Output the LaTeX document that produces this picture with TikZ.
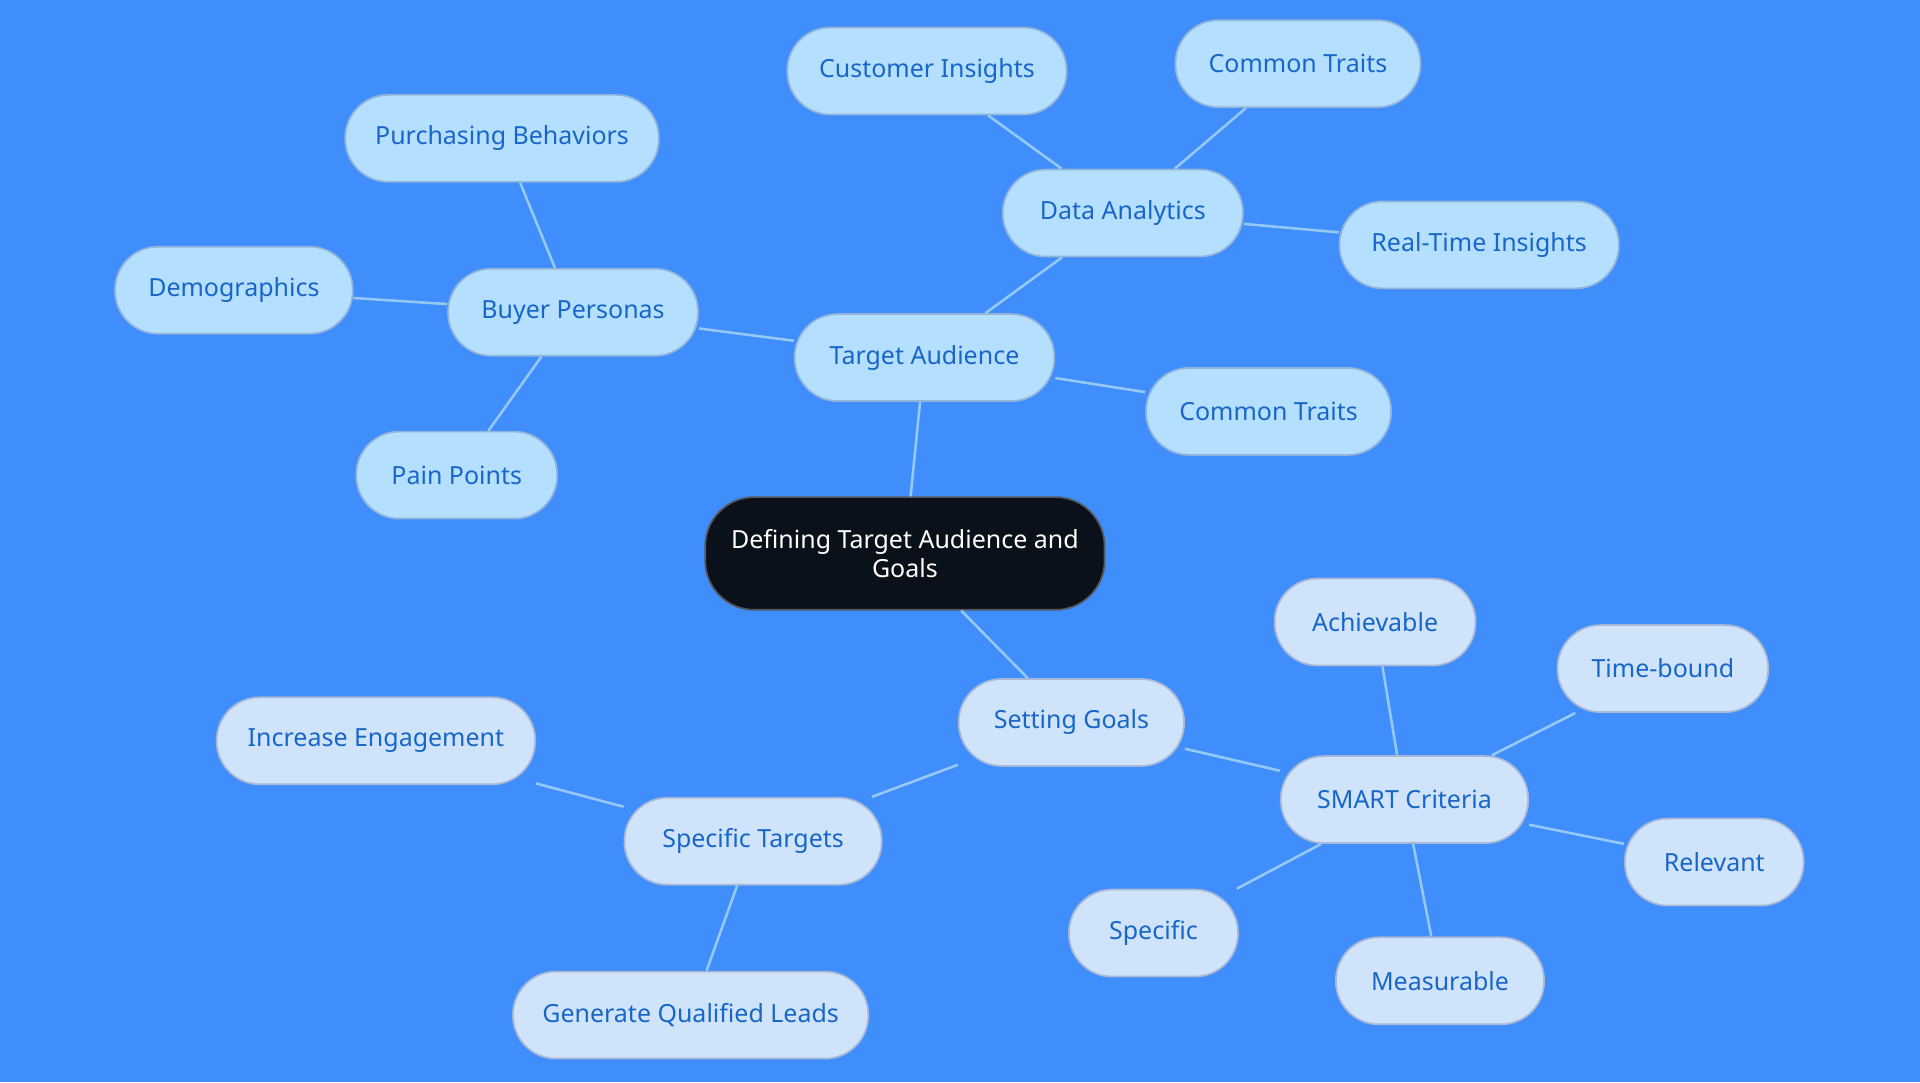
\documentclass[tikz,border=0pt]{standalone}
\usepackage{fontspec}
\setmainfont{Noto Sans}
\begin{document}
\definecolor{bg}{HTML}{3F8EFC}
\definecolor{upf}{HTML}{B5DFFF}
\definecolor{lof}{HTML}{CFE3FA}
\definecolor{txt}{HTML}{1766C8}
\definecolor{edge}{HTML}{96C8F5}
\definecolor{ctr}{HTML}{0B111A}
\begin{tikzpicture}[x=0.01cm,y=-0.01cm,
  nd/.style={draw=#1!85!black!95!blue,line width=0.4pt,fill=#1,rounded corners=0.35cm,minimum height=0.71cm,inner sep=0pt,text=txt,font=\fontsize{5.8}{7}\selectfont},
  up/.style={nd=upf},lo/.style={nd=lof},
  ln/.style={draw=edge,line width=0.6pt}]
\fill[bg] (0,0) rectangle (1568,884);
\useasboundingbox (0,0) rectangle (1568,884);
\node[fill=ctr,draw=ctr!70!white,rounded corners=0.4cm,minimum width=3.26cm,minimum height=0.92cm,text=white,align=center,font=\fontsize{5.8}{6.6}\selectfont] (c) at (739,452) {Defining Target Audience and\\Goals};
\node[up,minimum width=2.12cm] (ta) at (755,292) {Target Audience};
\node[up,minimum width=2.04cm] (bp) at (468,255) {Buyer Personas};
\node[up,minimum width=2.56cm] (pb) at (410,113) {Purchasing Behaviors};
\node[up,minimum width=1.94cm] (de) at (191,237) {Demographics};
\node[up,minimum width=1.64cm] (pp) at (373,388) {Pain Points};
\node[up,minimum width=1.96cm] (da) at (917,174) {Data Analytics};
\node[up,minimum width=2.28cm] (ci) at (757,58) {Customer Insights};
\node[up,minimum width=2.00cm] (ct1) at (1060,52) {Common Traits};
\node[up,minimum width=2.28cm] (rt) at (1208,200) {Real-Time Insights};
\node[up,minimum width=2.00cm] (ct2) at (1036,336) {Common Traits};
\node[lo,minimum width=1.84cm] (sg) at (875,590) {Setting Goals};
\node[lo,minimum width=2.10cm] (st) at (615,687) {Specific Targets};
\node[lo,minimum width=2.60cm] (ie) at (307,605) {Increase Engagement};
\node[lo,minimum width=2.90cm] (gq) at (564,829) {Generate Qualified Leads};
\node[lo,minimum width=2.02cm] (sm) at (1147,653) {SMART Criteria};
\node[lo,minimum width=1.64cm] (ac) at (1123,508) {Achievable};
\node[lo,minimum width=1.72cm] (tb) at (1358,546) {Time-bound};
\node[lo,minimum width=1.46cm] (re) at (1400,704) {Relevant};
\node[lo,minimum width=1.70cm] (me) at (1176,801) {Measurable};
\node[lo,minimum width=1.38cm] (sp) at (942,762) {Specific};
\begin{scope}[on background layer/.style={}]
\end{scope}
\foreach \a/\b in {c/ta,ta/bp,bp/pb,bp/de,bp/pp,ta/da,da/ci,da/ct1,da/rt,ta/ct2,c/sg,sg/st,st/ie,st/gq,sg/sm,sm/ac,sm/tb,sm/re,sm/me,sm/sp}
  \draw[ln] (\a) -- (\b);
\end{tikzpicture}
\end{document}
